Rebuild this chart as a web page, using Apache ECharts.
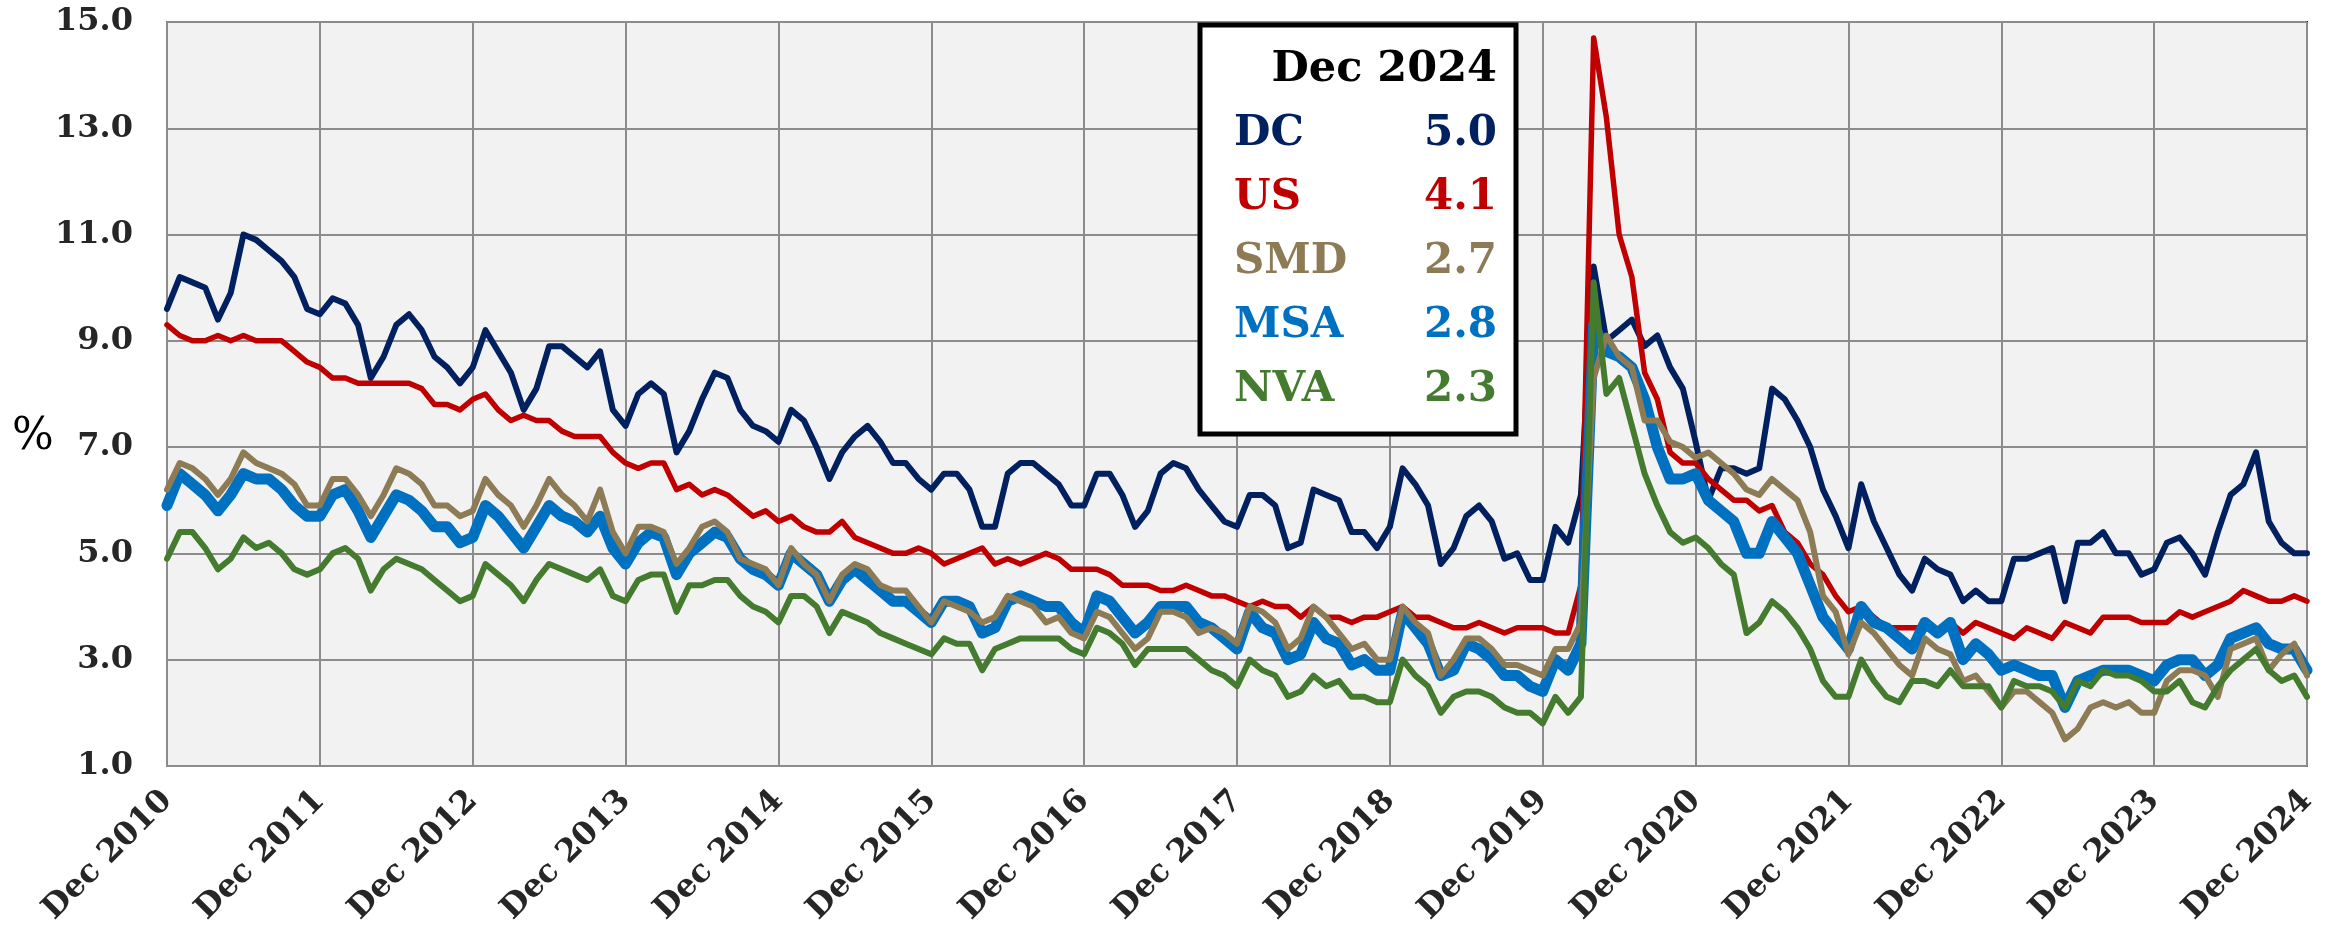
<!DOCTYPE html>
<html>
<head>
<meta charset="utf-8">
<script src="https://cdn.jsdelivr.net/npm/echarts@6/dist/echarts.min.js"></script>
<style>
html,body{margin:0;padding:0;background:#fff;}
#chart{width:2337px;height:928px;}
</style>
</head>
<body>
<div id="chart"></div>
<script>
// ---- Data ----
const monthNames = ['Jan','Feb','Mar','Apr','May','Jun','Jul','Aug','Sep','Oct','Nov','Dec'];
const startLabel = 'Dec 2010';
const years = [2011,2012,2013,2014,2015,2016,2017,2018,2019,2020,2021,2022,2023,2024];

const seriesNames = ['DC','US','SMD','MSA','NVA'];

const dcValues = [9.6,
 10.2,10.1,10.0,9.4,9.9,11.0,10.9,10.7,10.5,10.2,9.6,9.5,
 9.8,9.7,9.3,8.3,8.7,9.3,9.5,9.2,8.7,8.5,8.2,8.5,
 9.2,8.8,8.4,7.7,8.1,8.9,8.9,8.7,8.5,8.8,7.7,7.4,
 8.0,8.2,8.0,6.9,7.3,7.9,8.4,8.3,7.7,7.4,7.3,7.1,
 7.7,7.5,7.0,6.4,6.9,7.2,7.4,7.1,6.7,6.7,6.4,6.2,
 6.5,6.5,6.2,5.5,5.5,6.5,6.7,6.7,6.5,6.3,5.9,5.9,
 6.5,6.5,6.1,5.5,5.8,6.5,6.7,6.6,6.2,5.9,5.6,5.5,
 6.1,6.1,5.9,5.1,5.2,6.2,6.1,6.0,5.4,5.4,5.1,5.5,
 6.6,6.3,5.9,4.8,5.1,5.7,5.9,5.6,4.9,5.0,4.5,4.5,
 5.5,5.2,6.1,10.4,9.0,9.2,9.4,8.9,9.1,8.5,8.1,7.1,
 6.0,6.6,6.6,6.5,6.6,8.1,7.9,7.5,7.0,6.2,5.7,5.1,
 6.3,5.6,5.1,4.6,4.3,4.9,4.7,4.6,4.1,4.3,4.1,4.1,
 4.9,4.9,5.0,5.1,4.1,5.2,5.2,5.4,5.0,5.0,4.6,4.7,
 5.2,5.3,5.0,4.6,5.4,6.1,6.3,6.9,5.6,5.2,5.0,5.0];

const usValues = [9.3,
 9.1,9.0,9.0,9.1,9.0,9.1,9.0,9.0,9.0,8.8,8.6,8.5,
 8.3,8.3,8.2,8.2,8.2,8.2,8.2,8.1,7.8,7.8,7.7,7.9,
 8.0,7.7,7.5,7.6,7.5,7.5,7.3,7.2,7.2,7.2,6.9,6.7,
 6.6,6.7,6.7,6.2,6.3,6.1,6.2,6.1,5.9,5.7,5.8,5.6,
 5.7,5.5,5.4,5.4,5.6,5.3,5.2,5.1,5.0,5.0,5.1,5.0,
 4.8,4.9,5.0,5.1,4.8,4.9,4.8,4.9,5.0,4.9,4.7,4.7,
 4.7,4.6,4.4,4.4,4.4,4.3,4.3,4.4,4.3,4.2,4.2,4.1,
 4.0,4.1,4.0,4.0,3.8,4.0,3.8,3.8,3.7,3.8,3.8,3.9,
 4.0,3.8,3.8,3.7,3.6,3.6,3.7,3.6,3.5,3.6,3.6,3.6,
 3.5,3.5,4.4,14.7,13.2,11.0,10.2,8.4,7.9,6.9,6.7,6.7,
 6.4,6.2,6.0,6.0,5.8,5.9,5.4,5.2,4.8,4.6,4.2,3.9,
 4.0,3.8,3.6,3.6,3.6,3.6,3.5,3.7,3.5,3.7,3.6,3.5,
 3.4,3.6,3.5,3.4,3.7,3.6,3.5,3.8,3.8,3.8,3.7,3.7,
 3.7,3.9,3.8,3.9,4.0,4.1,4.3,4.2,4.1,4.1,4.2,4.1];

const smdValues = [6.2,
 6.7,6.6,6.4,6.1,6.4,6.9,6.7,6.6,6.5,6.3,5.9,5.9,
 6.4,6.4,6.1,5.7,6.1,6.6,6.5,6.3,5.9,5.9,5.7,5.8,
 6.4,6.1,5.9,5.5,5.9,6.4,6.1,5.9,5.6,6.2,5.4,5.0,
 5.5,5.5,5.4,4.8,5.1,5.5,5.6,5.4,4.9,4.8,4.7,4.4,
 5.1,4.8,4.6,4.1,4.6,4.8,4.7,4.4,4.3,4.3,4.0,3.7,
 4.1,4.0,3.9,3.7,3.8,4.2,4.1,4.0,3.7,3.8,3.5,3.4,
 3.9,3.8,3.5,3.2,3.4,3.9,3.9,3.8,3.5,3.6,3.5,3.3,
 4.0,3.9,3.7,3.2,3.4,4.0,3.8,3.5,3.2,3.3,3.0,3.0,
 4.0,3.7,3.5,2.7,3.0,3.4,3.4,3.2,2.9,2.9,2.8,2.7,
 3.2,3.2,3.7,8.3,9.1,8.7,8.5,7.5,7.5,7.1,7.0,6.8,
 6.9,6.7,6.5,6.2,6.1,6.4,6.2,6.0,5.4,4.2,3.9,3.1,
 3.7,3.5,3.2,2.9,2.7,3.4,3.2,3.1,2.6,2.7,2.4,2.1,
 2.4,2.4,2.2,2.0,1.5,1.7,2.1,2.2,2.1,2.2,2.0,2.0,
 2.6,2.8,2.8,2.7,2.3,3.2,3.3,3.4,2.8,3.1,3.3,2.7];

const msaValues = [5.9,
 6.5,6.3,6.1,5.8,6.1,6.5,6.4,6.4,6.2,5.9,5.7,5.7,
 6.1,6.2,5.8,5.3,5.7,6.1,6.0,5.8,5.5,5.5,5.2,5.3,
 5.9,5.7,5.4,5.1,5.5,5.9,5.7,5.6,5.4,5.7,5.1,4.8,
 5.2,5.4,5.3,4.6,5.0,5.2,5.4,5.3,4.9,4.7,4.6,4.4,
 5.0,4.8,4.6,4.1,4.5,4.7,4.5,4.3,4.1,4.1,3.9,3.7,
 4.1,4.1,4.0,3.5,3.6,4.1,4.2,4.1,4.0,4.0,3.7,3.5,
 4.2,4.1,3.8,3.5,3.7,4.0,4.0,4.0,3.7,3.6,3.4,3.2,
 3.9,3.6,3.5,3.0,3.1,3.7,3.4,3.3,2.9,3.0,2.8,2.8,
 3.9,3.6,3.3,2.7,2.8,3.3,3.2,3.0,2.7,2.7,2.5,2.4,
 3.0,2.8,3.3,9.3,8.8,8.7,8.5,7.9,7.0,6.4,6.4,6.5,
 6.0,5.8,5.6,5.0,5.0,5.6,5.3,5.0,4.4,3.8,3.5,3.2,
 4.0,3.7,3.6,3.4,3.2,3.7,3.5,3.7,3.0,3.3,3.1,2.8,
 2.9,2.8,2.7,2.7,2.1,2.6,2.7,2.8,2.8,2.8,2.7,2.6,
 2.9,3.0,3.0,2.7,2.9,3.4,3.5,3.6,3.3,3.2,3.2,2.8];

const nvaValues = [4.9,
 5.4,5.4,5.1,4.7,4.9,5.3,5.1,5.2,5.0,4.7,4.6,4.7,
 5.0,5.1,4.9,4.3,4.7,4.9,4.8,4.7,4.5,4.3,4.1,4.2,
 4.8,4.6,4.4,4.1,4.5,4.8,4.7,4.6,4.5,4.7,4.2,4.1,
 4.5,4.6,4.6,3.9,4.4,4.4,4.5,4.5,4.2,4.0,3.9,3.7,
 4.2,4.2,4.0,3.5,3.9,3.8,3.7,3.5,3.4,3.3,3.2,3.1,
 3.4,3.3,3.3,2.8,3.2,3.3,3.4,3.4,3.4,3.4,3.2,3.1,
 3.6,3.5,3.3,2.9,3.2,3.2,3.2,3.2,3.0,2.8,2.7,2.5,
 3.0,2.8,2.7,2.3,2.4,2.7,2.5,2.6,2.3,2.3,2.2,2.2,
 3.0,2.7,2.5,2.0,2.3,2.4,2.4,2.3,2.1,2.0,2.0,1.8,
 2.3,2.0,2.3,10.1,8.0,8.3,7.4,6.5,5.9,5.4,5.2,5.3,
 5.1,4.8,4.6,3.5,3.7,4.1,3.9,3.6,3.2,2.6,2.3,2.3,
 3.0,2.6,2.3,2.2,2.6,2.6,2.5,2.8,2.5,2.5,2.5,2.1,
 2.6,2.5,2.5,2.4,2.1,2.6,2.5,2.8,2.7,2.7,2.6,2.4,
 2.4,2.6,2.2,2.1,2.5,2.8,3.0,3.2,2.8,2.6,2.7,2.3];

const yTicks = {min:1, max:15, step:2};

// ---- Build categories ----
const categories = [startLabel];
years.forEach(y => monthNames.forEach(m => categories.push(m + ' ' + y)));

const colors = {DC:'#002060', US:'#C00000', SMD:'#8C7B55', MSA:'#0070C0', NVA:'#457B2F'};
const widths = {DC:6, US:5.5, SMD:6, MSA:11, NVA:6};
const dataByName = {DC:dcValues, US:usValues, SMD:smdValues, MSA:msaValues, NVA:nvaValues};
const drawOrder = ['DC','US','MSA','SMD','NVA'];

const serif = '"DejaVu Serif", "Liberation Serif", serif';

const chart = echarts.init(document.getElementById('chart'), null, {renderer:'canvas'});

const series = drawOrder.map((n, k) => ({
  name: n,
  type: 'line',
  data: dataByName[n],
  showSymbol: false,
  symbol: 'none',
  z: 2 + k,
  lineStyle: {color: colors[n], width: widths[n], cap: 'round', join: 'round'},
  itemStyle: {color: colors[n]},
  emphasis: {disabled: true}
}));

// Legend box (table of last values)
const boxX = 1200, boxY = 25, boxW = 316, boxH = 409;
const nameX = 1234, valX = 1497;
const rowY0 = 134, rowStep = 64;
const graphic = [
  {type:'rect', shape:{x:boxX, y:boxY, width:boxW, height:boxH}, style:{fill:'#fff', stroke:'#000', lineWidth:5}, z:100},
  {type:'text', x:valX, y:70, z:101, style:{text: categories[categories.length-1], fontFamily: serif, fontWeight:'bold', fontSize:43, fill:'#000', align:'right', verticalAlign:'middle'}},
  {type:'text', x:12, y:438, z:101, style:{text:'%', fontFamily: serif, fontSize:44, fill:'#000', align:'left', verticalAlign:'middle'}}
];
seriesNames.forEach((n, i) => {
  const arr = dataByName[n];
  graphic.push({type:'text', x:nameX, y:rowY0 + i*rowStep, z:101, style:{text:n, fontFamily: serif, fontWeight:'bold', fontSize:42, fill:colors[n], align:'left', verticalAlign:'middle'}});
  graphic.push({type:'text', x:valX, y:rowY0 + i*rowStep, z:101, style:{text:arr[arr.length-1].toFixed(1), fontFamily: serif, fontWeight:'bold', fontSize:42, fill:colors[n], align:'right', verticalAlign:'middle'}});
});

chart.setOption({
  animation: false,
  backgroundColor: '#ffffff',
  grid: {left:167, right:30, top:22, bottom:162, show:true, backgroundColor:'#F2F2F2', borderColor:'#222', borderWidth:2},
  xAxis: {
    type: 'category',
    data: categories,
    boundaryGap: false,
    axisLine: {show:true, lineStyle:{color:'#8c8c8c', width:2}},
    axisTick: {show:false},
    axisLabel: {interval:11, rotate:45, margin:30, fontFamily: serif, fontWeight:'bold', fontSize:32, color:'#262626'},
    splitLine: {show:true, interval:11, lineStyle:{color:'#8c8c8c', width:2}}
  },
  yAxis: {
    type: 'value',
    min: yTicks.min, max: yTicks.max, interval: yTicks.step,
    axisLine: {show:true, lineStyle:{color:'#8c8c8c', width:2}},
    axisTick: {show:false},
    axisLabel: {margin:34, formatter: v => v.toFixed(1), fontFamily: serif, fontWeight:'bold', fontSize:32, color:'#262626'},
    splitLine: {show:true, lineStyle:{color:'#8c8c8c', width:2}}
  },
  series: series,
  graphic: graphic
});
</script>
</body>
</html>
